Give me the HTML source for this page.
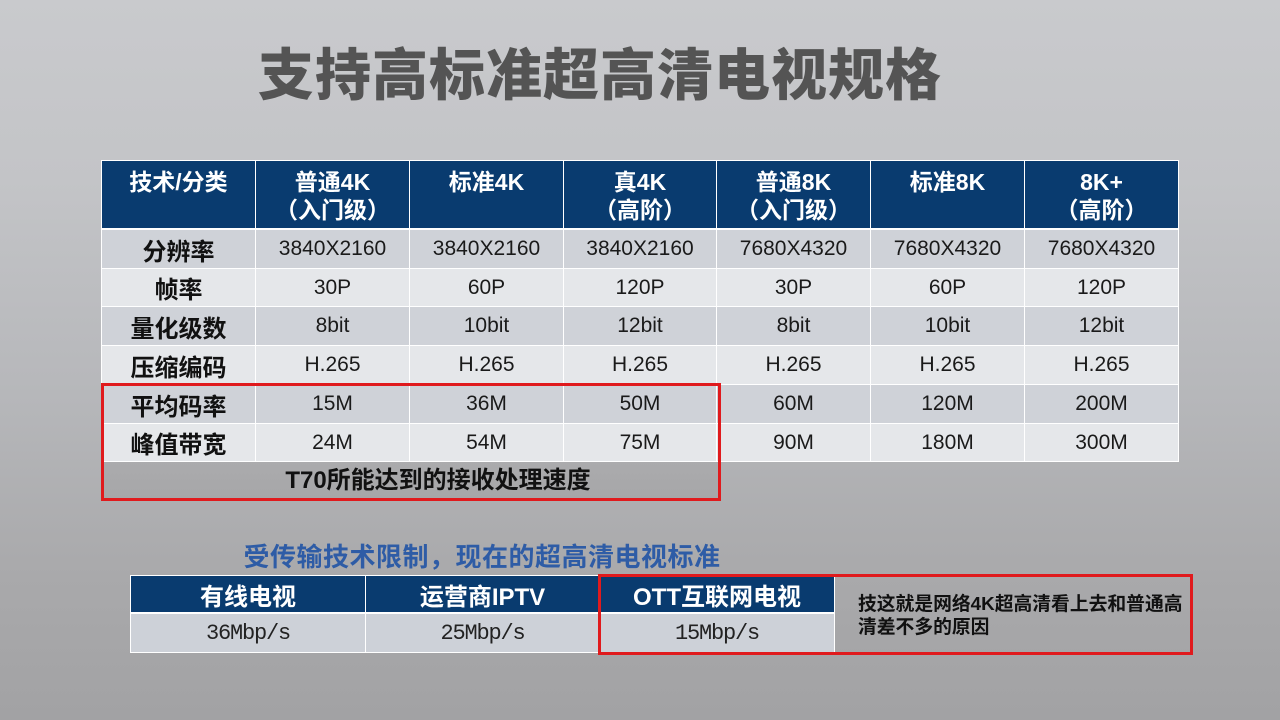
<!DOCTYPE html>
<html><head><meta charset="utf-8">
<style>
*{margin:0;padding:0;box-sizing:border-box}
html,body{width:1280px;height:720px;overflow:hidden}
body{position:relative;background:linear-gradient(180deg,#c9cacd 0%,#c3c4c7 25%,#b6b7ba 55%,#a9a9ab 80%,#a2a2a4 100%);font-family:"Liberation Sans","Noto Sans CJK SC",sans-serif}
.title{position:absolute;left:250px;top:36px;width:700px;text-align:center;font-size:56px;line-height:72px;font-weight:900;color:#545454;letter-spacing:1px;font-family:"Noto Sans CJK SC","WenQuanYi Zen Hei",sans-serif}
.t1{position:absolute;left:101px;top:160px;padding:1px;background:#fff;display:grid;grid-template-columns:153px 153px 153px 152px 153px 153px 153px;grid-template-rows:68px 38px 37px 38px 38px 38px 37px;gap:1px}
.t1 div{display:flex;align-items:center;justify-content:center;font-size:21px;color:#1a1a1a}
.t1 .h{background:#093b6f;color:#fff;font-weight:bold;font-size:23px;line-height:28px;align-items:flex-start;padding-top:7px;text-align:center;border-bottom:1px solid #fff;font-family:"Liberation Sans","Noto Sans CJK SC",sans-serif;white-space:nowrap}
.t1 .d{background:#cfd2d8}
.t1 .l{background:#e5e7ea}
.t1 .k{font-weight:bold;font-size:24px;font-family:"Liberation Sans","Noto Sans CJK SC",sans-serif;color:#111}
.foot{position:absolute;left:102px;top:462px;width:618px;height:38px;padding-left:54px;background:linear-gradient(180deg,#ababad,#a6a6a8);display:flex;align-items:center;justify-content:center;font-weight:bold;font-size:24px;color:#111;line-height:36px}
.red{position:absolute;border:3px solid #e01a1d}
.sub{position:absolute;left:232px;top:538px;width:500px;text-align:center;font-size:26px;line-height:38px;font-weight:bold;color:#2e5ca6;letter-spacing:0.5px;font-family:"Liberation Sans","Noto Sans CJK SC",sans-serif}
.t2{position:absolute;left:130px;top:575px;padding:1px;background:#fff;display:grid;grid-template-columns:234px 233px 234px;grid-template-rows:37px 38px;gap:1px}
.t2 div{display:flex;align-items:center;justify-content:center}
.t2 .h{background:#093b6f;color:#fff;font-weight:bold;font-size:24px;border-bottom:1px solid #fff}
.t2 .v{background:#cdd1d8;font-family:"Liberation Mono",monospace;font-size:22px;letter-spacing:-1.2px;color:#222}
.note{position:absolute;left:858px;top:592px;width:380px;font-size:18.8px;line-height:23px;font-weight:bold;color:#111;white-space:nowrap}
</style></head><body>
<div class="title">支持高标准超高清电视规格</div>

<div class="t1">
<div class="h">技术/分类</div>
<div class="h">普通4K<br>（入门级）</div>
<div class="h">标准4K</div>
<div class="h">真4K<br>（高阶）</div>
<div class="h">普通8K<br>（入门级）</div>
<div class="h">标准8K</div>
<div class="h">8K+<br>（高阶）</div>

<div class="d k">分辨率</div><div class="d">3840X2160</div><div class="d">3840X2160</div><div class="d">3840X2160</div><div class="d">7680X4320</div><div class="d">7680X4320</div><div class="d">7680X4320</div>
<div class="l k">帧率</div><div class="l">30P</div><div class="l">60P</div><div class="l">120P</div><div class="l">30P</div><div class="l">60P</div><div class="l">120P</div>
<div class="d k">量化级数</div><div class="d">8bit</div><div class="d">10bit</div><div class="d">12bit</div><div class="d">8bit</div><div class="d">10bit</div><div class="d">12bit</div>
<div class="l k">压缩编码</div><div class="l">H.265</div><div class="l">H.265</div><div class="l">H.265</div><div class="l">H.265</div><div class="l">H.265</div><div class="l">H.265</div>
<div class="d k">平均码率</div><div class="d">15M</div><div class="d">36M</div><div class="d">50M</div><div class="d">60M</div><div class="d">120M</div><div class="d">200M</div>
<div class="l k">峰值带宽</div><div class="l">24M</div><div class="l">54M</div><div class="l">75M</div><div class="l">90M</div><div class="l">180M</div><div class="l">300M</div>
</div>
<div class="foot">T70所能达到的接收处理速度</div>
<div class="red" style="left:101px;top:383px;width:620px;height:118px"></div>

<div class="sub">受传输技术限制，现在的超高清电视标准</div>
<div class="t2">
<div class="h">有线电视</div><div class="h">运营商IPTV</div><div class="h">OTT互联网电视</div>
<div class="v">36Mbp/s</div><div class="v">25Mbp/s</div><div class="v">15Mbp/s</div>
</div>
<div class="red" style="left:598px;top:574px;width:595px;height:81px"></div>
<div class="note">技这就是网络4K超高清看上去和普通高<br>清差不多的原因</div>
</body></html>
